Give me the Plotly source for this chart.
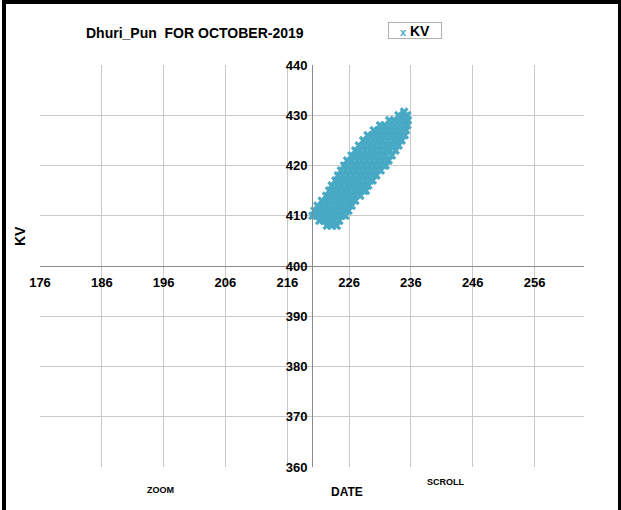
import plotly.graph_objects as go

# ---- data (current on x, voltage in KV on y) ----
kv_levels = [408, 409, 410, 411, 412, 413, 414, 415, 416, 417, 418, 419, 420,
             421, 422, 423, 424, 425, 426, 427, 428, 429, 430, 430.7]
current_rows = [
    [222.4, 223.2, 224.0],
    [221.2, 222.0, 222.8, 223.6, 224.4],
    [220.1, 220.8, 221.6, 222.4, 223.2, 224.0, 224.8, 225.4],
    [220.4, 221.2, 222.0, 222.8, 223.6, 224.4, 225.2, 225.9],
    [220.9, 221.6, 222.4, 223.2, 224.0, 224.8, 225.6, 226.4],
    [221.6, 222.4, 223.2, 224.0, 224.8, 225.6, 226.4, 227.0],
    [222.3, 223.0, 223.8, 224.6, 225.4, 226.2, 227.0, 227.8],
    [222.8, 223.6, 224.4, 225.2, 226.0, 226.8, 227.6, 228.4, 228.7],
    [223.2, 224.0, 224.8, 225.6, 226.4, 227.2, 228.0, 228.8, 229.1],
    [223.8, 224.6, 225.4, 226.2, 227.0, 227.8, 228.6, 229.4, 229.8],
    [224.2, 225.0, 225.8, 226.6, 227.4, 228.2, 229.0, 229.8, 230.4],
    [224.7, 225.5, 226.3, 227.1, 227.9, 228.7, 229.5, 230.3, 231.1],
    [225.2, 226.0, 226.8, 227.6, 228.4, 229.2, 230.0, 230.8, 231.6, 231.9],
    [225.7, 226.5, 227.3, 228.1, 228.9, 229.7, 230.5, 231.3, 232.1, 232.4],
    [226.4, 227.2, 228.0, 228.8, 229.6, 230.4, 231.2, 232.0, 232.9],
    [227.0, 227.8, 228.6, 229.4, 230.2, 231.0, 231.8, 232.6, 233.5],
    [227.6, 228.4, 229.2, 230.0, 230.8, 231.6, 232.4, 233.2, 234.0],
    [228.3, 229.1, 229.9, 230.7, 231.5, 232.3, 233.1, 233.9, 234.5],
    [229.0, 229.8, 230.6, 231.4, 232.2, 233.0, 233.8, 234.6, 235.0],
    [230.0, 230.8, 231.6, 232.4, 233.2, 234.0, 234.8, 235.2],
    [231.0, 231.8, 232.6, 233.4, 234.2, 235.0, 235.4],
    [232.5, 233.3, 234.1, 234.9, 235.5],
    [234.0, 234.8, 235.4],
    [234.9],
]
x_tick_values = [176, 186, 196, 206, 216, 226, 236, 246, 256]
y_tick_values = [360, 370, 380, 390, 400, 410, 420, 430, 440]
series_name = "KV"

xs, ys = [], []
for level, row in zip(kv_levels, current_rows):
    for c in row:
        xs.append(c)
        ys.append(level)

FONT = "Liberation Sans, Arial, sans-serif"
MARK = "#48a9c5"

fig = go.Figure()
fig.add_trace(go.Scatter(
    x=xs, y=ys, mode="markers", name=series_name, showlegend=False,
    marker=dict(symbol="x", size=8, color=MARK, line=dict(width=0)),
))

W, H = 621, 510
L, R, T, B = 40, 37, 65, 43
pw, ph = W - L - R, H - T - B

def px(x):
    return (x - L) / pw

def py(y):
    return (H - B - y) / ph

fig.update_layout(
    width=W, height=H,
    margin=dict(l=L, r=R, t=T, b=B, autoexpand=False),
    paper_bgcolor="white", plot_bgcolor="white",
    font=dict(family=FONT, color="black"),
    showlegend=False,
    xaxis=dict(
        range=[176, 264], tickvals=x_tick_values, ticktext=[str(v) for v in x_tick_values],
        anchor="free", position=0.5, showline=True, linecolor="#8a8a8a", linewidth=1,
        showgrid=True, gridcolor="#c9c9c9", gridwidth=1, zeroline=False, ticks="",
        tickfont=dict(size=13, family=FONT, weight="bold"), ticklabelstandoff=4,
    ),
    yaxis=dict(
        range=[360, 440], tickvals=y_tick_values, ticktext=[str(v) for v in y_tick_values],
        anchor="free", position=0.5, showline=True, linecolor="#8a8a8a", linewidth=1,
        showgrid=True, gridcolor="#c9c9c9", gridwidth=1, zeroline=False, ticks="",
        tickfont=dict(size=13, family=FONT, weight="bold"), ticklabelstandoff=2,
    ),
)

ann = dict(xref="paper", yref="paper", showarrow=False, xanchor="center", yanchor="middle")
fig.add_annotation(text="Dhuri_Pun  FOR OCTOBER-2019", x=px(195), y=py(33),
                   font=dict(size=14, family=FONT, weight="bold"), **ann)
fig.add_annotation(text="KV", x=px(20), y=py(236), textangle=-90,
                   font=dict(size=14, family=FONT, weight="bold"), **ann)
fig.add_annotation(text="DATE", x=px(347), y=py(492),
                   font=dict(size=12, family=FONT, weight="bold"), **ann)
fig.add_annotation(text="ZOOM", x=px(160), y=py(490),
                   font=dict(size=9, family=FONT, weight="bold"), **ann)
fig.add_annotation(text="SCROLL", x=px(446), y=py(482),
                   font=dict(size=9, family=FONT, weight="bold"), **ann)

# compact legend box like the original
fig.add_annotation(
    text=f"<span style='color:{MARK};font-size:11px'><b>x</b></span> {series_name}",
    x=px(415), y=py(30), width=50, height=13, align="center",
    bordercolor="#b0b0b0", borderwidth=1, borderpad=1, bgcolor="white",
    font=dict(size=14, family=FONT, weight="bold"), **ann)

# outer black frame (left, top, right) as filled bands
for x0, y0, x1, y1 in [(2, 0, 6, 510), (2, 0, 621, 4), (618, 0, 621, 510)]:
    fig.add_shape(type="rect", xref="paper", yref="paper",
                  x0=px(x0), y0=py(y0), x1=px(x1), y1=py(y1),
                  fillcolor="black", line=dict(width=0), layer="above")

fig.write_html(
    "out.html",
    config={"displayModeBar": False},
    post_script="document.body.style.margin='0';document.body.style.overflow='hidden';",
)
